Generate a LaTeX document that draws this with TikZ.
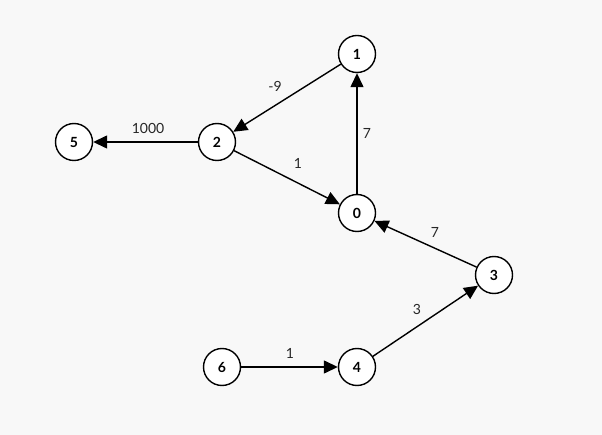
\documentclass[tikz,border=0pt]{standalone}
\usepackage{fontspec}
\setmainfont{Lato}
\usetikzlibrary{arrows.meta}
\begin{document}
\begin{tikzpicture}[x=1pt,y=-1pt,
  vertex/.style={circle,draw=black,fill=white,line width=1.4pt,minimum size=37pt,inner sep=0pt,font=\fontsize{14}{16}\selectfont\bfseries},
  edge/.style={line width=1.4pt,-{Triangle[length=14pt,width=13pt]}},
  wlabel/.style={font=\fontsize{14}{16}\selectfont,text=black!85}]
\fill[fill={rgb,255:red,248;green,248;blue,248}] (0,0) rectangle (602,435);
\useasboundingbox (0,0) rectangle (602,435);
\node[vertex] (n1) at (357,54) {1};
\node[vertex] (n2) at (217,142) {2};
\node[vertex] (n5) at (74,142) {5};
\node[vertex] (n0) at (357,213) {0};
\node[vertex] (n3) at (494,275) {3};
\node[vertex] (n6) at (222,367) {6};
\node[vertex] (n4) at (357,367) {4};
\draw[edge] (n1) -- (n2);
\draw[edge] (n2) -- (n5);
\draw[edge] (n2) -- (n0);
\draw[edge] (n0) -- (n1);
\draw[edge] (n3) -- (n0);
\draw[edge] (n4) -- (n3);
\draw[edge] (n6) -- (n4);
\node[wlabel] (l12) at (275,86) {-9};
\node[wlabel] (l25) at (148,128) {1000};
\node[wlabel] (l01) at (367,133) {7};
\node[wlabel] (l20) at (298,163) {1};
\node[wlabel] (l30) at (435,232) {7};
\node[wlabel] (l43) at (417,309) {3};
\node[wlabel] (l64) at (290,353) {1};
\end{tikzpicture}
\end{document}
